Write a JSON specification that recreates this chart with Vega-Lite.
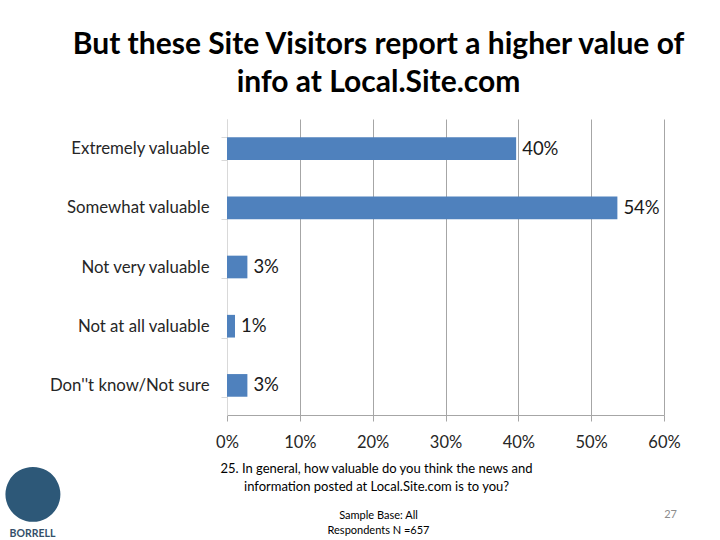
{
  "$schema": "https://vega.github.io/schema/vega-lite/v6.json",
  "width": 437,
  "height": 296,
  "autosize": {"type": "none"},
  "padding": {"left": 227, "top": 119, "right": 56, "bottom": 125},
  "background": "white",
  "config": {"view": {"stroke": null}, "font": "Lato"},
  "title": {
    "text": ["But these Site Visitors report a higher value of", "info at Local.Site.com"],
    "font": "Lato", "fontSize": 30, "fontWeight": "bold", "color": "black",
    "lineHeight": 38, "anchor": "middle", "frame": "group", "dx": -67, "offset": 13
  },
  "data": {
    "values": [
      {"category": "Extremely valuable", "value": 39.7, "label": "40%"},
      {"category": "Somewhat valuable", "value": 53.6, "label": "54%"},
      {"category": "Not very valuable", "value": 2.8, "label": "3%"},
      {"category": "Not at all valuable", "value": 1.1, "label": "1%"},
      {"category": "Don''t know/Not sure", "value": 2.8, "label": "3%"}
    ]
  },
  "resolve": {"axis": {"x": "independent", "y": "independent"}},
  "layer": [
    {
      "mark": {"type": "bar", "color": "#4F81BD"},
      "encoding": {
        "y": {
          "field": "category", "type": "nominal", "sort": null,
          "scale": {"paddingInner": 0.617, "paddingOuter": 0.3085},
          "axis": {
            "title": "BORRELL", "titleAngle": 0, "titleX": -195, "titleY": 414,
            "titleAlign": "center", "titleBaseline": "middle", "titleFontSize": 10.5,
            "titleFontWeight": "bold", "titleColor": "#34506a",
            "labelFontSize": 16.8, "labelColor": "#262626", "labelPadding": 12, "labelLimit": 220,
            "tickBand": "extent", "tickSize": 6, "tickColor": "#d9d9d9", "domainColor": "#d9d9d9",
            "grid": false
          }
        },
        "x": {
          "field": "value", "type": "quantitative", "scale": {"domain": [0, 60], "nice": false},
          "axis": {
            "values": [0, 10, 20, 30, 40, 50, 60],
            "labelExpr": "datum.value + '%'",
            "labelFlush": false,
            "labelFontSize": 16.5, "labelColor": "#262626", "labelPadding": 13,
            "grid": true,
            "gridColor": {"condition": {"test": "datum.value === 0", "value": "#d9d9d9"}, "value": "#a6a6a6"},
            "tickColor": "#a6a6a6", "domainColor": "#a6a6a6", "tickSize": 6,
            "title": ["25. In general, how valuable do you think the news and", "information posted at Local.Site.com is to you?"],
            "titleX": 149, "titleY": 47, "titleAlign": "center", "titleBaseline": "top",
            "titleFontSize": 13, "titleFontWeight": "normal", "titleLineHeight": 18, "titleColor": "black"
          }
        }
      }
    },
    {
      "mark": {"type": "text", "align": "left", "baseline": "middle", "dx": 6, "fontSize": 18.5, "color": "#1a1a1a", "font": "Lato"},
      "encoding": {
        "y": {
          "field": "category", "type": "nominal", "sort": null,
          "axis": {
            "orient": "left", "title": "●", "labels": false, "ticks": false, "domain": false, "grid": false,
            "titleAngle": 0, "titleX": -194.5, "titleY": 371, "titleAlign": "center", "titleBaseline": "middle",
            "titleFont": "DejaVu Sans", "titleFontSize": 72, "titleFontWeight": "normal", "titleColor": "#2d5878"
          }
        },
        "x": {"field": "value", "type": "quantitative", "axis": null},
        "text": {"field": "label"}
      }
    },
    {
      "mark": {"type": "bar", "opacity": 0},
      "encoding": {
        "y": {
          "field": "category", "type": "nominal", "sort": null,
          "axis": {
            "orient": "right", "title": "27", "labels": false, "ticks": false, "domain": false, "grid": false,
            "titleAngle": 0, "titleX": 6, "titleY": 395, "titleAlign": "center", "titleBaseline": "middle",
            "titleFontSize": 11, "titleFontWeight": "normal", "titleColor": "#8c8c8c"
          }
        },
        "x": {
          "field": "value", "type": "quantitative",
          "axis": {
            "orient": "top", "title": ["Sample Base: All", "Respondents N =657"],
            "labels": false, "ticks": false, "domain": false, "grid": false,
            "titleX": 151, "titleY": 390, "titleAlign": "center", "titleBaseline": "top",
            "titleFontSize": 11, "titleFontWeight": "normal", "titleLineHeight": 15, "titleColor": "black"
          }
        }
      }
    }
  ]
}
